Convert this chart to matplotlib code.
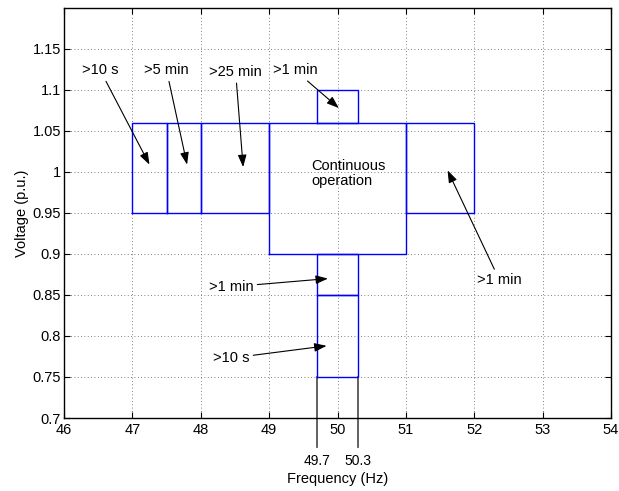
import matplotlib
matplotlib.use("Agg")
import matplotlib.pyplot as plt

plt.rcParams['font.family'] = ['Liberation Sans', 'DejaVu Sans']
plt.rcParams['font.size'] = 10.5

# Operating regions: frequency band (Hz), voltage band (p.u.), duration label
f_low = [47.0, 47.5, 48.0, 49.0, 51.0, 49.7, 49.7, 49.7]
f_high = [47.5, 48.0, 49.0, 51.0, 52.0, 50.3, 50.3, 50.3]
v_low = [0.95, 0.95, 0.95, 0.90, 0.95, 1.06, 0.85, 0.75]
v_high = [1.06, 1.06, 1.06, 1.06, 1.06, 1.10, 0.90, 0.85]
durations = [">10 s", ">5 min", ">25 min", "Continuous\noperation",
             ">1 min", ">1 min", ">1 min", ">10 s"]

x_ticks = [46, 47, 48, 49, 50, 51, 52, 53, 54]
y_ticks = [0.7, 0.75, 0.8, 0.85, 0.9, 0.95, 1.0, 1.05, 1.1, 1.15]
narrow_band = [49.7, 50.3]

fig = plt.figure(figsize=(6.19, 4.91), dpi=100)
ax = fig.add_axes([64 / 619, 1 - 418 / 491, (611 - 64) / 619, (418 - 8) / 491])

for f0, f1, v0, v1 in zip(f_low, f_high, v_low, v_high):
    ax.plot([f0, f1, f1, f0, f0], [v0, v0, v1, v1, v0], color='#0000ff', lw=1.0)

# Markers for the narrow band edges, running below the axis
for f in narrow_band:
    ax.plot([f, f], [min(v_low), 0.665], color='#555555', lw=1.3, clip_on=False,
            zorder=1)
    ax.text(f, 0.6565, f"{f:g}", ha='center', va='top', fontsize=10)

arrow = dict(arrowstyle='-|>,head_length=0.7,head_width=0.25', color='black',
             lw=0.8, shrinkA=1, shrinkB=0)
ann = [
    (durations[0], (46.53, 1.124), (47.25, 1.009)),
    (durations[1], (47.50, 1.124), (47.80, 1.009)),
    (durations[2], (48.51, 1.122), (48.62, 1.006)),
    (durations[5], (49.38, 1.124), (50.02, 1.078)),
    (durations[4], (52.37, 0.868), (51.61, 1.002)),
    (durations[6], (48.44, 0.860), (49.86, 0.870)),
    (durations[7], (48.44, 0.773), (49.84, 0.788)),
]
for label, xytext, xy in ann:
    ax.annotate(label, xy=xy, xytext=xytext, ha='center', va='center',
                arrowprops=arrow)

ax.text(49.62, 0.998, durations[3], ha='left', va='center', linespacing=1.15)

ax.set_xlim(46, 54)
ax.set_ylim(0.7, 1.2)
ax.set_xticks(x_ticks)
ax.set_yticks(y_ticks)
ax.set_xticklabels([f"{t:g}" for t in x_ticks])
ax.set_yticklabels([f"{t:g}" for t in y_ticks])
ax.grid(True, linestyle=(0, (1, 3)), color='#555555', lw=0.6)
ax.tick_params(direction='in', top=True, right=True, length=4, width=0.8,
               labelsize=10.5)
ax.tick_params(axis='x', pad=3.5)
ax.tick_params(axis='y', pad=2)
for s in ax.spines.values():
    s.set_linewidth(1.0)
    s.set_color('black')

ax.set_xlabel("Frequency (Hz)", labelpad=25)
ax.set_ylabel("Voltage (p.u.)", labelpad=3)

fig.savefig("out.png", dpi=100)
